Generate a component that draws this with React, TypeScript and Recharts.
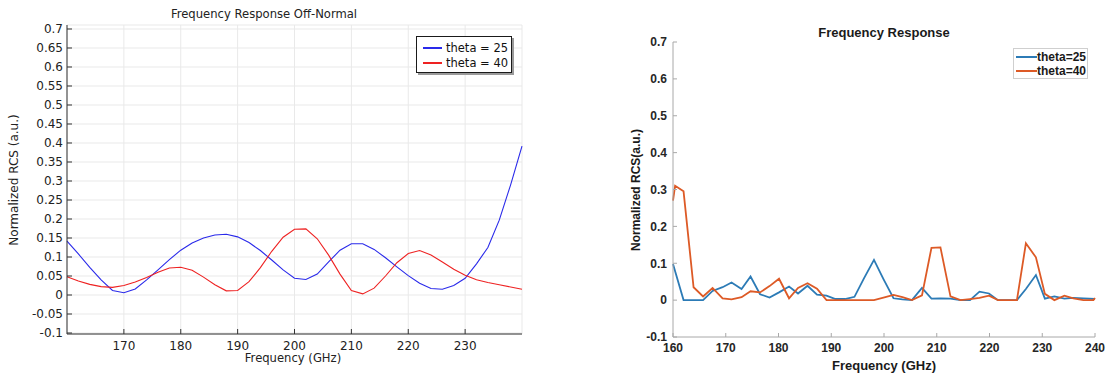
import React from 'react';
import { LineChart, Line, XAxis, YAxis, CartesianGrid, Legend } from 'recharts';

// left panel: simulated, 2 GHz step
const offNormalFreq = [
  160, 162, 164, 166, 168, 170, 172, 174, 176, 178, 180, 182, 184, 186, 188, 190, 192, 194, 196, 198, 200,
  202, 204, 206, 208, 210, 212, 214, 216, 218, 220, 222, 224, 226, 228, 230, 232, 234, 236, 238, 240,
];
const offNormalTheta25 = [
  0.142, 0.108, 0.073, 0.04, 0.012, 0.006, 0.016, 0.04, 0.066, 0.093, 0.118, 0.137, 0.15, 0.158, 0.16, 0.153,
  0.138, 0.117, 0.092, 0.066, 0.044, 0.041, 0.055, 0.087, 0.118, 0.135, 0.135, 0.12, 0.098, 0.074, 0.051,
  0.031, 0.017, 0.015, 0.025, 0.044, 0.082, 0.125, 0.197, 0.29, 0.392,
];
const offNormalTheta40 = [
  0.048, 0.037, 0.028, 0.022, 0.02, 0.025, 0.034, 0.046, 0.06, 0.071, 0.073, 0.065, 0.047, 0.027, 0.011, 0.012,
  0.035, 0.072, 0.115, 0.152, 0.173, 0.174, 0.148, 0.105, 0.055, 0.012, 0.003, 0.018, 0.05, 0.085, 0.109,
  0.117, 0.105, 0.087, 0.068, 0.052, 0.04, 0.033, 0.027, 0.021, 0.015,
];

// right panel: measured
const measFreq25 = [
  160, 162, 163.9, 165.7, 167.5, 169.4, 171.1, 173, 174.7, 176.5, 178.3, 180.1, 182, 183.7, 185.5, 187.3,
  189.1, 190.8, 192.6, 194.4, 196.2, 198.1, 199.9, 201.8, 203.5, 205.3, 207.2, 209, 210.7, 212.6, 214.5,
  216.3, 218.1, 219.9, 221.6, 223.4, 225.2, 226.9, 228.8, 230.5, 232.3, 234.2, 235.9, 237.8, 240,
];
const measTheta25 = [
  0.098, 0, 0, 0, 0.025, 0.035, 0.048, 0.03, 0.064, 0.016, 0.007, 0.021, 0.037, 0.018, 0.039, 0.015,
  0.012, 0.003, 0.003, 0.009, 0.059, 0.109, 0.057, 0.005, 0.002, 0, 0.033, 0.004, 0.005, 0.004, 0,
  0, 0.023, 0.018, 0, 0, 0, 0.03, 0.068, 0.004, 0.01, 0.004, 0.006, 0.005, 0.003,
];
const measFreq40 = [
  160, 160.4, 162, 163.9, 165.7, 167.5, 169.4, 171.1, 173, 174.7, 176.5, 178.3, 180.1, 182, 183.7, 185.5,
  187.3, 189.1, 190.8, 192.6, 194.4, 196.2, 198.1, 199.9, 201.8, 203.5, 205.3, 207.2, 209, 210.7, 212.6,
  214.5, 216.3, 218.1, 219.9, 221.6, 223.4, 225.2, 226.9, 228.8, 230.5, 232.3, 234.2, 235.9, 237.8, 239.7, 240,
];
const measTheta40 = [
  0.27, 0.31, 0.295, 0.035, 0.01, 0.033, 0.005, 0.002, 0.008, 0.024, 0.021, 0.038, 0.058, 0.005, 0.033, 0.046,
  0.031, 0, 0, 0, 0, 0, 0, 0.007, 0.014, 0.008, 0, 0.013, 0.142, 0.143, 0.01,
  0, 0.003, 0.006, 0.012, 0, 0, 0, 0.154, 0.116, 0.017, 0, 0.012, 0.005, 0, 0, 0.006,
];

const leftYTicks = [-0.1, -0.05, 0, 0.05, 0.1, 0.15, 0.2, 0.25, 0.3, 0.35, 0.4, 0.45, 0.5, 0.55, 0.6, 0.65, 0.7];
const leftXTicks = [170, 180, 190, 200, 210, 220, 230];
const rightYTicks = [-0.1, 0, 0.1, 0.2, 0.3, 0.4, 0.5, 0.6, 0.7];
const rightXTicks = [160, 170, 180, 190, 200, 210, 220, 230, 240];

const offNormalData = offNormalFreq.map((f, i) => ({ f, t25: offNormalTheta25[i], t40: offNormalTheta40[i] }));
const meas25Data = measFreq25.map((f, i) => ({ f, v: measTheta25[i] }));
const meas40Data = measFreq40.map((f, i) => ({ f, v: measTheta40[i] }));

const SIM_BLUE = '#2a2aea';
const SIM_RED = '#ee2222';
const MEAS_BLUE = '#2c7bb6';
const MEAS_ORANGE = '#dd5a26';

const fmt = (v: number) => String(parseFloat(v.toFixed(2)));
const blank = () => '';

const SIM_FONT = '"DejaVu Sans", sans-serif';
const MEAS_FONT = '"Liberation Sans", Arial, sans-serif';

const SimLegend = ({ payload }: any) => {
  const colors = [SIM_BLUE, SIM_RED];
  return (
    <div style={{
      background: '#fff', border: '1px solid #1a1a1a', boxShadow: '2px 2px 0 #9a9a9a',
      width: 94, height: 35, fontFamily: SIM_FONT, fontSize: 11.5, color: '#111', position: 'relative',
    }}>
      {(payload || []).map((p: any, i: number) => (
        <div key={i} style={{ position: 'absolute', left: 6, top: 3 + i * 15.5, height: 15, display: 'flex', alignItems: 'center' }}>
          <span style={{ display: 'inline-block', width: 19, height: 2, background: colors[i], marginRight: 4 }} />
          <span>{p.value}</span>
        </div>
      ))}
    </div>
  );
};

const MeasLegend = ({ payload }: any) => {
  const colors = [MEAS_BLUE, MEAS_ORANGE];
  return (
    <div style={{
      background: '#fff', border: '1px solid #cfcfcf', width: 73, height: 29,
      fontFamily: MEAS_FONT, fontSize: 12, fontWeight: 'bold', color: '#1a1a1a', position: 'relative',
    }}>
      {(payload || []).map((p: any, i: number) => (
        <div key={i} style={{ position: 'absolute', left: 2, top: 1 + i * 14, height: 14, display: 'flex', alignItems: 'center' }}>
          <span style={{ display: 'inline-block', width: 21, height: 2, background: colors[i] }} />
          <span>{p.value}</span>
        </div>
      ))}
    </div>
  );
};

const centered = (x: number, y: number, extra: React.CSSProperties = {}): React.CSSProperties => ({
  position: 'absolute', left: x, top: y, transform: 'translate(-50%, -50%)', whiteSpace: 'nowrap', ...extra,
});

export default function App() {
  const simTick = { fill: '#222', fontSize: 12, fontFamily: SIM_FONT };
  const measTick = { fill: '#262626', fontSize: 12, fontWeight: 'bold', fontFamily: MEAS_FONT };
  return (
    <div style={{ position: 'absolute', left: 0, top: 0, width: 1112, height: 374, background: '#fff', overflow: 'hidden' }}>
      <div style={{ position: 'absolute', left: 0, top: 0 }}>
        <LineChart width={540} height={374} data={offNormalData} margin={{ top: 25, right: 18, bottom: 0, left: 0 }}>
          <CartesianGrid stroke="#e9e9e9" strokeWidth={1} />
          <XAxis dataKey="f" type="number" domain={[160, 240]} ticks={leftXTicks} interval={0} height={40}
            stroke="#333" tickSize={-5} tickMargin={12} tick={simTick} />
          <XAxis xAxisId="top" orientation="top" dataKey="f" type="number" domain={[160, 240]} ticks={leftXTicks}
            interval={0} height={0} stroke="#333" tickSize={-5} tickFormatter={blank} />
          <YAxis type="number" domain={[-0.1026, 0.7105]} ticks={leftYTicks} interval={0} width={67}
            stroke="#333" tickSize={-5} tickMargin={9} tick={simTick} tickFormatter={fmt} />
          <YAxis yAxisId="r" orientation="right" type="number" domain={[-0.1026, 0.7105]} ticks={leftYTicks}
            interval={0} width={0} stroke="#333" tickSize={-5} tickFormatter={blank} />
          <Legend layout="vertical" align="center" verticalAlign="middle" content={<SimLegend />}
            wrapperStyle={{ left: 416, top: 36, width: 'auto' }} />
          <Line type="linear" dataKey="t25" name="theta = 25" stroke={SIM_BLUE} strokeWidth={1.1} dot={false} isAnimationActive={false} />
          <Line type="linear" dataKey="t40" name="theta = 40" stroke={SIM_RED} strokeWidth={1.1} dot={false} isAnimationActive={false} />
        </LineChart>
      </div>
      <div style={centered(264, 14, { fontFamily: SIM_FONT, fontSize: 11.6, color: '#222' })}>Frequency Response Off-Normal</div>
      <div style={centered(293, 358, { fontFamily: SIM_FONT, fontSize: 11.6, color: '#222' })}>Frequency (GHz)</div>
      <div style={centered(14, 180, { fontFamily: SIM_FONT, fontSize: 12, color: '#222', transform: 'translate(-50%, -50%) rotate(-90deg)' })}>Normalized RCS (a.u.)</div>

      <div style={{ position: 'absolute', left: 600, top: 0 }}>
        <LineChart width={512} height={374} margin={{ top: 42, right: 17, bottom: 0, left: 0 }}>
          <XAxis dataKey="f" type="number" domain={[160, 240]} ticks={rightXTicks} interval={0} height={37}
            stroke="#a8a8a8" tickSize={-4} tickMargin={10} tick={measTick} allowDuplicatedCategory={false} />
          <YAxis type="number" domain={[-0.1, 0.7]} ticks={rightYTicks} interval={0} width={73}
            stroke="#a8a8a8" tickSize={-4} tickMargin={10} tick={measTick} tickFormatter={fmt} />
          <Legend layout="vertical" align="center" verticalAlign="middle" content={<MeasLegend />}
            wrapperStyle={{ left: 413, top: 48, width: 'auto' }} />
          <Line data={meas25Data} type="linear" dataKey="v" name="theta=25" stroke={MEAS_BLUE} strokeWidth={1.8} dot={false} isAnimationActive={false} />
          <Line data={meas40Data} type="linear" dataKey="v" name="theta=40" stroke={MEAS_ORANGE} strokeWidth={1.8} dot={false} isAnimationActive={false} />
        </LineChart>
      </div>
      <div style={centered(884, 32, { fontFamily: MEAS_FONT, fontSize: 13, fontWeight: 'bold', color: '#1a1a1a' })}>Frequency Response</div>
      <div style={centered(884, 365, { fontFamily: MEAS_FONT, fontSize: 13, fontWeight: 'bold', color: '#1a1a1a' })}>Frequency (GHz)</div>
      <div style={centered(636, 190, { fontFamily: MEAS_FONT, fontSize: 12, fontWeight: 'bold', color: '#1a1a1a', transform: 'translate(-50%, -50%) rotate(-90deg)' })}>Normalized RCS(a.u.)</div>
    </div>
  );
}
